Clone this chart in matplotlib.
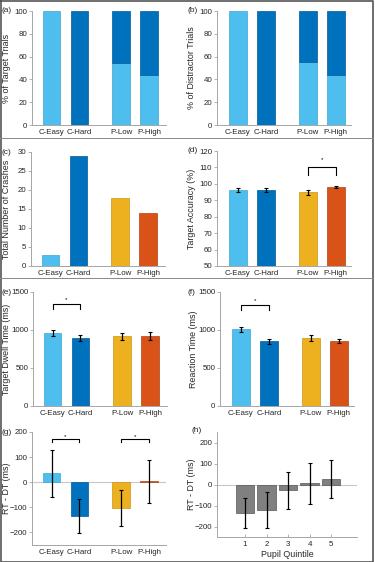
import matplotlib
matplotlib.use("Agg")
import matplotlib.pyplot as plt
from matplotlib.lines import Line2D
import numpy as np

plt.rcParams['font.family'] = ['Liberation Sans', 'DejaVu Sans']

# ---------------- data ----------------
conds = ["C-Easy", "C-Hard", "P-Low", "P-High"]
target_low_pct = [100, 0, 54, 44]          # light (easy) portion, % of target trials
target_high_pct = [0, 100, 46, 56]
distractor_low_pct = [100, 0, 55, 44]
distractor_high_pct = [0, 100, 45, 56]
crashes = [3, 29, 18, 14]
accuracy = [96.3, 96.2, 95.0, 97.8]
accuracy_err = [1.3, 1.0, 1.5, 0.6]
dwell = [955, 895, 915, 925]
dwell_err = [40, 45, 40, 50]
rt = [1010, 850, 895, 855]
rt_err = [35, 32, 35, 30]
rtdt = [35, -135, -103, 3]
rtdt_err = [93, 67, 71, 87]
quintiles = [1, 2, 3, 4, 5]
quint_rtdt = [-135, -123, -28, 5, 27]
quint_err = [72, 85, 88, 98, 90]

LB = "#4DBEEE"
DB = "#0072BD"
YE = "#EDB120"
OR = "#D95319"
cols4 = [LB, DB, YE, OR]
edge4 = ["#3fa6d2", "#005a96", "#c9951a", "#b04313"]

pos = [1, 2, 3.5, 4.5]
W, H = 375, 562
fig = plt.figure(figsize=(W / 100, H / 100), dpi=100)

FS = 5.7
LFS = 6.4
SPINE = "#a6a6a6"
TXT = "#262626"


def add_ax(left, top, right, bottom):
    return fig.add_axes([left / W, 1 - bottom / H, (right - left) / W, (bottom - top) / H])


def style(ax, ylim, yticks, xlim=(0.3, 5.1), xt=pos, xtl=conds):
    ax.set_xlim(*xlim)
    ax.set_ylim(*ylim)
    ax.set_yticks(yticks)
    ax.set_xticks(xt)
    ax.set_xticklabels(xtl)
    for s in ["top", "right"]:
        ax.spines[s].set_visible(False)
    for s in ["left", "bottom"]:
        ax.spines[s].set_color(SPINE)
        ax.spines[s].set_linewidth(0.7)
    ax.tick_params(axis='y', length=2, width=0.6, color=SPINE, labelsize=FS, labelcolor=TXT, pad=1.5)
    ax.tick_params(axis='x', length=0, labelsize=FS, labelcolor=TXT, pad=3)


def ylab(ax, text, xpix, left):
    ax.set_ylabel(text, fontsize=LFS, color=TXT)
    bbox = ax.get_position()
    ax.yaxis.set_label_coords((xpix - left) / (bbox.width * W), 0.5)


def panel(xpix, ypix, t):
    fig.text(xpix / W, 1 - ypix / H, t, fontsize=6.0, color=TXT, ha='left', va='center')


def bracket(ax, x1, x2, y_top, y_leg, y_star):
    ax.plot([x1, x1, x2, x2], [y_leg, y_top, y_top, y_leg], color='black', lw=0.8, clip_on=False)
    ax.text((x1 + x2) / 2, y_star, "*", ha='center', va='center', fontsize=4.5, color='black')


def stacked(ax, low, high):
    ax.bar(pos, low, width=BW, color=LB,
           edgecolor=["#3fa6d2" if v > 0 else "none" for v in low], linewidth=0.5)
    ax.bar(pos, high, width=BW, bottom=low, color=DB,
           edgecolor=["#005a96" if v > 0 else "none" for v in high], linewidth=0.5)


ekw = dict(ecolor='black', elinewidth=0.9, capsize=1.3, capthick=0.8)
BW = 0.64
LX, RX = 11, 196   # right edge of y labels (pixels)
RL = 217           # left spine of right column

# (a)
ax = add_ax(32, 11, 166, 125)
stacked(ax, target_low_pct, target_high_pct)
style(ax, (0, 100), [0, 20, 40, 60, 80, 100])
ylab(ax, "% of Target Trials", LX, 32)
panel(2, 11, "(a)")

# (b)
ax = add_ax(RL, 11, 351, 125)
stacked(ax, distractor_low_pct, distractor_high_pct)
style(ax, (0, 100), [0, 20, 40, 60, 80, 100], xlim=(0.25, 5.05))
ylab(ax, "% of Distractor Trials", RX, RL)
panel(188, 11, "(b)")

# (c)
ax = add_ax(31, 152, 165, 266)
ax.bar(pos, crashes, width=BW, color=cols4, edgecolor=edge4, linewidth=0.5)
style(ax, (0, 30), [0, 5, 10, 15, 20, 25, 30])
ylab(ax, "Total Number of Crashes", LX, 31)
panel(2, 152, "(c)")

# (d)
ax = add_ax(RL, 151, 351, 266)
ax.bar(pos, accuracy, width=BW, color=cols4, edgecolor=edge4, linewidth=0.5)
ax.errorbar(pos, accuracy, yerr=accuracy_err, fmt='none', **ekw)
style(ax, (50, 120), [50, 60, 70, 80, 90, 100, 110, 120], xlim=(0.25, 5.05))
bracket(ax, 3.5, 4.5, 110.2, 105.4, 115)
ylab(ax, "Target Accuracy (%)", RX, RL)
panel(188, 151, "(d)")

# (e)
ax = add_ax(33, 292, 167, 406)
ax.bar(pos, dwell, width=BW, color=cols4, edgecolor=edge4, linewidth=0.5)
ax.errorbar(pos, dwell, yerr=dwell_err, fmt='none', **ekw)
style(ax, (0, 1500), [0, 500, 1000, 1500])
bracket(ax, 1, 2, 1342, 1276, 1400)
ylab(ax, "Target Dwell Time (ms)", LX, 33)
panel(2, 292, "(e)")

# (f)
ax = add_ax(220, 292, 354, 406)
ax.bar(pos, rt, width=BW, color=cols4, edgecolor=edge4, linewidth=0.5)
ax.errorbar(pos, rt, yerr=rt_err, fmt='none', **ekw)
style(ax, (0, 1500), [0, 500, 1000, 1500], xlim=(0.25, 5.05))
bracket(ax, 1, 2, 1330, 1263, 1392)
ylab(ax, "Reaction Time (ms)", RX + 2, 220)
panel(188, 292, "(f)")

# (g)
ax = add_ax(32, 432, 166, 545)
ax.axhline(0, color="#c8c8c8", lw=0.8, zorder=0.5)
ax.bar(pos, rtdt, width=BW, color=cols4, edgecolor=edge4, linewidth=0.5)
ax.errorbar(pos, rtdt, yerr=rtdt_err, fmt='none', **ekw)
style(ax, (-250, 200), [-200, -100, 0, 100, 200])
bracket(ax, 1, 2, 172, 161, 182)
bracket(ax, 3.5, 4.5, 172, 161, 182)
ylab(ax, "RT - DT (ms)", LX, 32)
panel(2, 432, "(g)")

# (h)
ax = add_ax(217, 432, 357, 537)
ax.axhline(0, color="#c8c8c8", lw=0.8, zorder=0.5)
ax.bar(quintiles, quint_rtdt, width=0.85, color="#808080", edgecolor="#555555", linewidth=0.5)
ax.errorbar(quintiles, quint_rtdt, yerr=quint_err, fmt='none', **ekw)
style(ax, (-250, 250), [-200, -100, 0, 100, 200], xlim=(-0.3, 6.2),
      xt=quintiles, xtl=[str(q) for q in quintiles])
ax.tick_params(axis='x', length=2, direction='in', width=0.6, color=SPINE, pad=3)
ax.set_xlabel("Pupil Quintile", fontsize=LFS, color=TXT, labelpad=1)
ylab(ax, "RT - DT (ms)", RX, 217)
panel(191, 430, "(h)")

# figure border and row separators
fig.add_artist(Line2D([0.5 / W, 372.5 / W, 372.5 / W, 0.5 / W, 0.5 / W],
                      [1 - 0.5 / H, 1 - 0.5 / H, 1 - 561.5 / H, 1 - 561.5 / H, 1 - 0.5 / H],
                      transform=fig.transFigure, color="#555555", lw=1.2))
for yy in [138, 278]:
    fig.add_artist(Line2D([0, 372.5 / W], [1 - yy / H, 1 - yy / H],
                          transform=fig.transFigure, color="#888888", lw=0.7))

fig.savefig("out.png", dpi=100)
